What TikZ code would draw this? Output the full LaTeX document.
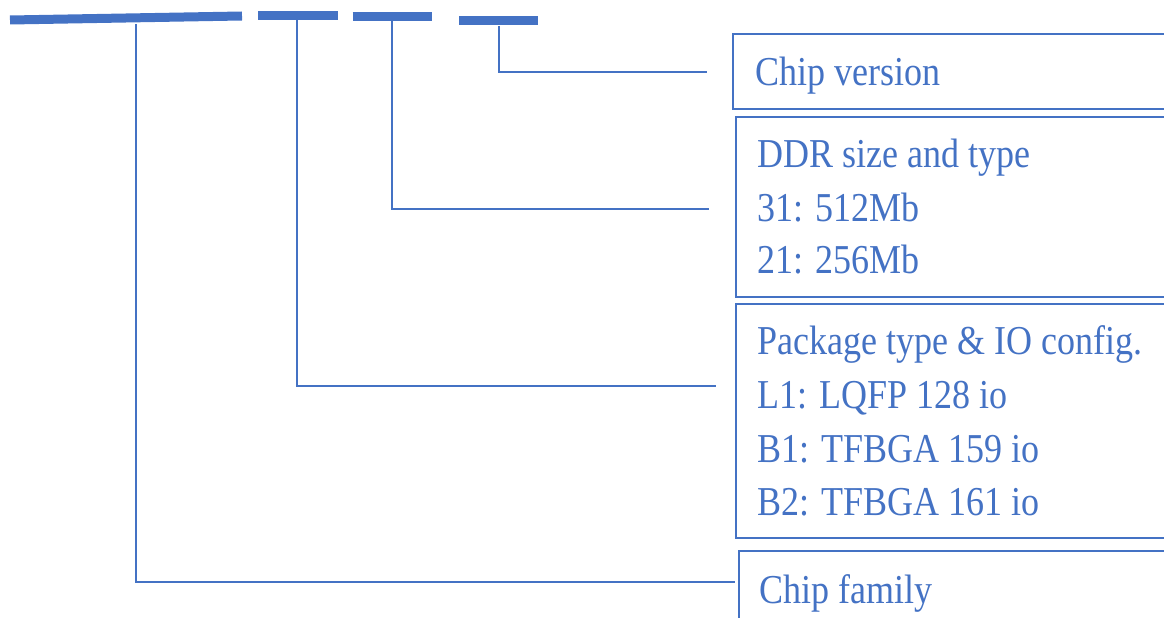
\documentclass[tikz,border=0pt]{standalone}
\usepackage{fontspec}
\setmainfont{Liberation Serif}
\usepackage{graphicx}
\definecolor{office}{HTML}{4472C4}
\newcommand{\tl}[1]{\scalebox{1}[1.14]{#1}}
\begin{document}
\begin{tikzpicture}[x=0.02cm,y=-0.02cm,
  bar/.style={draw=office, line width=0.18cm},
  conn/.style={draw=office, line width=0.04cm},
  box/.style={draw=office, line width=0.04cm, rectangle, inner sep=0pt, outer sep=0pt, anchor=north west},
  lbl/.style={anchor=base west, text=office, inner sep=0pt, font=\fontsize{20.5}{24}\selectfont}]
\useasboundingbox (0,0) rectangle (1164,618);
\clip (0,0) rectangle (1164,618);

% part-number bars
\draw[bar] (10,20) -- (242,16);
\draw[bar] (258,15.3) -- (337.5,15.3);
\draw[bar] (352.5,17) -- (432,17);
\draw[bar] (459,20.5) -- (538,20.5);

% boxes
\node[box, minimum width=8.94cm, minimum height=1.50cm] (ver) at (733,34) {};
\node[box, minimum width=8.88cm, minimum height=3.60cm] (ddr) at (736,117) {};
\node[box, minimum width=8.88cm, minimum height=4.68cm] (pkg) at (736,304) {};
\node[box, minimum width=8.82cm, minimum height=2.00cm] (fam) at (739,551) {};

% texts
\node[lbl] (t1) at (755,86) {\tl{Chip version}};
\node[lbl] (t2) at (757,168) {\tl{DDR size and type}};
\node[lbl] (t3) at (757,222) {\tl{31: 512Mb}};
\node[lbl] (t4) at (757,274) {\tl{21: 256Mb}};
\node[lbl] (t5) at (757,355) {\tl{Package type \& IO config.}};
\node[lbl] (t6) at (757,409) {\tl{L1: LQFP 128 io}};
\node[lbl] (t7) at (757,462) {\tl{B1: TFBGA 159 io}};
\node[lbl] (t8) at (757,516) {\tl{B2: TFBGA 161 io}};
\node[lbl] (t9) at (759,603) {\tl{Chip family}};

% connector start and end points
\coordinate (b1) at (136,24);
\coordinate (b2) at (297,15);
\coordinate (b3) at (392,17);
\coordinate (b4) at (499,26);
\coordinate (e1) at (735,582);
\coordinate (e2) at (716,386);
\coordinate (e3) at (709,209);
\coordinate (e4) at (707,72);

\draw[conn] (b1) |- (e1);
\draw[conn] (b2) |- (e2);
\draw[conn] (b3) |- (e3);
\draw[conn] (b4) |- (e4);
\end{tikzpicture}
\end{document}
